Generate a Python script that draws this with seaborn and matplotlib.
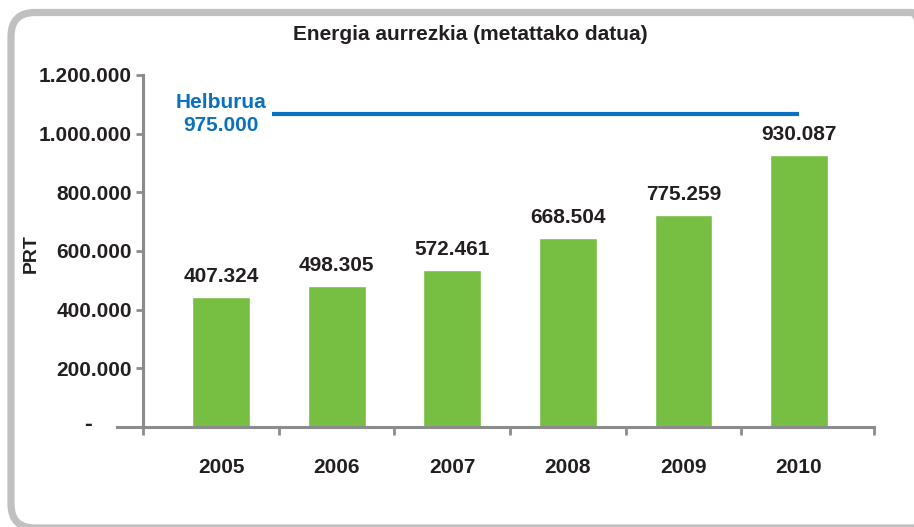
import matplotlib
matplotlib.use("Agg")
import matplotlib.pyplot as plt
from matplotlib.patches import FancyBboxPatch
from matplotlib.transforms import IdentityTransform, ScaledTranslation
import seaborn as sns
import pandas as pd

# ---- data ----
years = ["2005", "2006", "2007", "2008", "2009", "2010"]
bar_heights = [444000, 481000, 535000, 644000, 723000, 927000]
value_labels = ["407.324", "498.305", "572.461", "668.504", "775.259", "930.087"]
target_value = 1067000
target_label = "Helburua\n975.000"
y_ticks = [0, 200000, 400000, 600000, 800000, 1000000, 1200000]
y_tick_labels = ["-", "200.000", "400.000", "600.000", "800.000", "1.000.000", "1.200.000"]
title = "Energia aurrezkia (metattako datua)"
y_title = "PRT"

GREEN = "#77bf43"
BLUE = "#0a70c0"
TEXT = "#231f20"
AXIS = "#8c8c8c"
BORDER = "#c0c0c0"

sns.set_theme(style="white")
plt.rcParams["font.family"] = ["Liberation Sans", "DejaVu Sans"]
plt.rcParams["font.weight"] = "bold"

W, H = 914, 527
fig = plt.figure(figsize=(W / 100, H / 100), dpi=100)
L, R, B, T = 117, 873.6, 427, 75
ax = fig.add_axes([L / W, 1 - B / H, (R - L) / W, (B - T) / H])

df = pd.DataFrame({"year": years, "value": bar_heights})
sns.barplot(data=df, x="year", y="value", color=GREEN, saturation=1,
            width=0.5, ax=ax, errorbar=None)

ax.set_xlim(-0.9, 5.645)
ax.set_ylim(0, 1200000)
ax.set_xlabel("")
ax.set_ylabel("")

for s in ["top", "right"]:
    ax.spines[s].set_visible(False)
for s in ["left", "bottom"]:
    ax.spines[s].set_color(AXIS)
    ax.spines[s].set_linewidth(2.2)
ax.spines["left"].set_position(("data", -0.675))
ax.spines["left"].set_bounds(0, 1200000)

ax.set_yticks(y_ticks)
ax.set_yticklabels(y_tick_labels, fontsize=15, fontweight="bold", color=TEXT)
ax.tick_params(axis="y", length=5, width=2, color=AXIS, pad=3, direction="out", left=True)
# zero label "-" sits further left and a little higher, as in the reference
zero_lbl = ax.get_yticklabels()[0]
zero_lbl.set_transform(zero_lbl.get_transform()
                       + ScaledTranslation(-0.40, 0.05, fig.dpi_scale_trans))
zero_lbl.set_fontsize(17)

ax.set_xticks(range(len(years)))
ax.set_xticklabels(years, fontsize=15, fontweight="bold", color=TEXT)
ax.tick_params(axis="x", which="major", length=0, pad=22)
ax.set_xticks([-0.675, 0.5, 1.5, 2.5, 3.5, 4.5, 5.645], minor=True)
ax.tick_params(axis="x", which="minor", length=5.5, width=2, color=AXIS,
               direction="out", bottom=True)

for i, (h, lab) in enumerate(zip(bar_heights, value_labels)):
    ax.annotate(lab, (i, h), xytext=(0, 14.5), textcoords="offset points",
                ha="center", va="center", fontsize=15, fontweight="bold", color=TEXT)

ax.hlines(target_value, 0.44, 5.0, color=BLUE, linewidth=3)
ax.text(0, target_value, target_label, ha="center", va="center", fontsize=15,
        fontweight="bold", color=BLUE, linespacing=1.25)

fig.text(470 / W, 1 - 35 / H, title, ha="center", va="center", fontsize=15,
         fontweight="bold", color=TEXT)
fig.text(31 / W, 1 - 254 / H, y_title, ha="center", va="center", rotation=90,
         fontsize=14, fontweight="bold", color=TEXT)

border = FancyBboxPatch((11, -1), 936 - 11, (H - 12.5) + 1,
                        boxstyle="round,pad=0,rounding_size=24",
                        transform=IdentityTransform(), fill=False,
                        edgecolor=BORDER, linewidth=5.2)
fig.patches.append(border)

fig.savefig("out.png", dpi=100)
